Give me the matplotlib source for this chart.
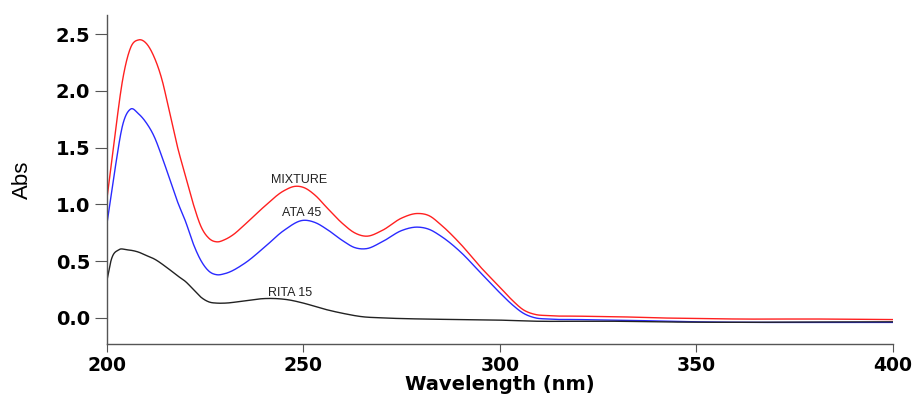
import matplotlib
matplotlib.use("Agg")
import matplotlib.pyplot as plt
import numpy as np

# 波长与吸光度数据
wl_mix = [200, 202, 204, 206, 208, 210, 212, 214, 216, 218, 220, 222, 224, 226, 228, 230, 232, 235,
          240, 245, 248, 250, 253, 256, 260, 263, 266, 270, 275, 279, 282, 285, 290, 295, 300, 303,
          306, 309, 312, 320, 330, 340, 350, 360, 380, 400]
abs_mix = [1.05, 1.6, 2.1, 2.38, 2.45, 2.42, 2.3, 2.1, 1.8, 1.5, 1.25, 1.0, 0.8, 0.7, 0.67, 0.69, 0.73, 0.82,
           0.98, 1.12, 1.16, 1.15, 1.08, 0.97, 0.83, 0.75, 0.72, 0.77, 0.88, 0.92, 0.9, 0.82, 0.65, 0.45, 0.27, 0.16,
           0.07, 0.03, 0.02, 0.015, 0.01, 0.0, -0.005, -0.01, -0.01, -0.015]

wl_ata = [200, 202, 204, 206, 208, 210, 212, 214, 216, 218, 220, 222, 224, 226, 228, 230, 235, 240,
          245, 250, 253, 256, 260, 263, 266, 270, 275, 279, 282, 285, 290, 295, 300, 303, 306, 309,
          312, 320, 330, 350, 400]
abs_ata = [0.83, 1.3, 1.7, 1.84, 1.8, 1.72, 1.6, 1.42, 1.22, 1.02, 0.85, 0.65, 0.5, 0.41, 0.38, 0.39, 0.48, 0.62,
           0.77, 0.86, 0.84, 0.78, 0.68, 0.62, 0.61, 0.67, 0.77, 0.8, 0.78, 0.72, 0.58, 0.4, 0.22, 0.12, 0.04, 0.0,
           -0.01, -0.015, -0.02, -0.035, -0.04]

wl_rita = [200, 201, 203, 205, 208, 210, 212, 215, 218, 220, 222, 224, 226, 228, 230, 235, 240, 243,
           246, 250, 255, 260, 265, 270, 280, 290, 300, 310, 320, 330, 340, 400]
abs_rita = [0.33, 0.5, 0.6, 0.6, 0.58, 0.55, 0.52, 0.45, 0.37, 0.32, 0.25, 0.18, 0.14, 0.13, 0.13, 0.15, 0.17, 0.17,
            0.16, 0.13, 0.08, 0.04, 0.01, 0.0, -0.01, -0.015, -0.02, -0.03, -0.03, -0.03, -0.035, -0.035]

x_ticks = [200, 250, 300, 350, 400]
y_ticks = [0.0, 0.5, 1.0, 1.5, 2.0, 2.5]


def smooth(x, y):
    # 三次 Hermite 插值，让曲线平滑一些
    x = np.asarray(x, float)
    y = np.asarray(y, float)
    h = np.diff(x)
    d = np.diff(y) / h
    m = np.empty_like(y)
    m[0], m[-1] = d[0], d[-1]
    m[1:-1] = (d[:-1] * h[1:] + d[1:] * h[:-1]) / (h[:-1] + h[1:])
    xs = np.linspace(x[0], x[-1], 1600)
    i = np.clip(np.searchsorted(x, xs) - 1, 0, len(x) - 2)
    t = (xs - x[i]) / h[i]
    h00 = 2 * t**3 - 3 * t**2 + 1
    h10 = t**3 - 2 * t**2 + t
    h01 = -2 * t**3 + 3 * t**2
    h11 = t**3 - t**2
    ys = h00 * y[i] + h10 * h[i] * m[i] + h01 * y[i + 1] + h11 * h[i] * m[i + 1]
    return xs, ys


fig = plt.figure(figsize=(9.14, 3.94), dpi=100)
ax = fig.add_axes([0.117, 0.127, 0.86, 0.835])

ax.plot(*smooth(wl_mix, abs_mix), color="#ff2020", lw=1.0)
ax.plot(*smooth(wl_ata, abs_ata), color="#2a2aff", lw=1.0)
ax.plot(*smooth(wl_rita, abs_rita), color="#222222", lw=1.0)

# 曲线标注
ax.text(249, 1.16, "MIXTURE", fontsize=9, family="Liberation Sans", ha="center", va="bottom", color="#222222")
ax.text(249.5, 0.87, "ATA 45", fontsize=9, family="Liberation Sans", ha="center", va="bottom", color="#222222")
ax.text(246.5, 0.165, "RITA 15", fontsize=9, family="Liberation Sans", ha="center", va="bottom", color="#222222")

ax.set_xlim(200, 400)
ax.set_ylim(-0.23, 2.67)
ax.set_xticks(x_ticks)
ax.set_yticks(y_ticks)
ax.set_yticklabels([f"{v:.1f}" for v in y_ticks])

for s in ["top", "right"]:
    ax.spines[s].set_visible(False)
for s in ["left", "bottom"]:
    ax.spines[s].set_color("#555555")
    ax.spines[s].set_linewidth(1.0)

ax.tick_params(axis="x", length=6, color="#555555", labelsize=13.5, pad=3)
ax.tick_params(axis="y", length=9, color="#555555", labelsize=14, pad=3)
for lab in ax.get_xticklabels() + ax.get_yticklabels():
    lab.set_fontweight("bold")

ax.set_xlabel("Wavelength (nm)", fontsize=14, fontweight="bold", va="center")
ax.xaxis.set_label_coords(0.5, -0.122)
ax.set_ylabel("Abs", fontsize=16, family="Liberation Sans", labelpad=16)

fig.savefig("out.png", dpi=100)
